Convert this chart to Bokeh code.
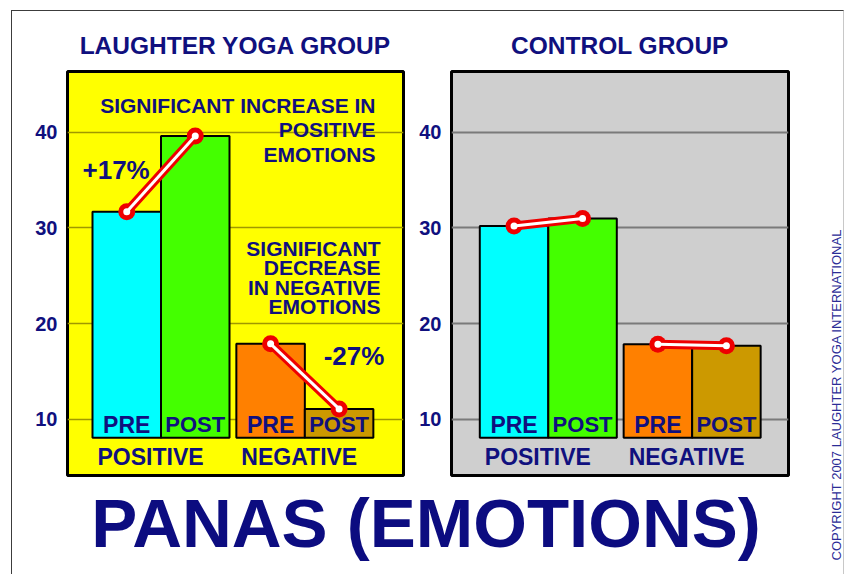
import math
from bokeh.plotting import figure
from bokeh.models import Label, Range1d, FixedTicker, ColumnDataSource
from bokeh.layouts import row, column
from bokeh.embed import file_html
from bokeh.resources import INLINE
from bokeh.core.properties import value

# ---------------- data ----------------
groups = ["LAUGHTER YOGA GROUP", "CONTROL GROUP"]
categories = ["POSITIVE", "NEGATIVE"]
phases = ["PRE", "POST"]
laughter_positive = [31.7, 39.6]
laughter_negative = [17.9, 11.1]
control_positive = [30.2, 31.0]
control_negative = [17.85, 17.7]
y_ticks = [10, 20, 30, 40]
laughter_changes = ["+17%", "-27%"]
laughter_notes_pos = ["SIGNIFICANT INCREASE IN", "POSITIVE", "EMOTIONS"]
laughter_notes_neg = ["SIGNIFICANT", "DECREASE", "IN NEGATIVE", "EMOTIONS"]
main_title = "PANAS (EMOTIONS)"
copyright_text = "COPYRIGHT 2007 LAUGHTER YOGA INTERNATIONAL"

# ---------------- styles / layout ----------------
NAVY = "#10107e"
FONT = "Liberation Sans"
BAR_COLORS = ["#00ffff", "#44ff00", "#ff8000", "#cc9900"]
PHASE_SIZES = ["23px", "22px"]
RED = "#ee0000"
Y_START, Y_END = 4.15, 46.34
PX_PER_Y = 9.577
PX_PER_X = 68.5
BAR_BASE = 8.1
XPOS = [0.0, 1.0, 2.1, 3.1]
ORIGIN_X, ORIGIN_Y = 12, 11          # content start after page frame line
FRAME_TOP_ABS = 71
TOP_BOTTOM_ABS = 485
TOP_H = TOP_BOTTOM_ABS - ORIGIN_Y


def px2y(abs_y):
    return Y_END - (abs_y - FRAME_TOP_ABS) / PX_PER_Y


def make_panel(pos_vals, neg_vals, title, fig_w, border_l, border_r, x_start,
               bg, grid_color, grid_w):
    frame_w = fig_w - border_l - border_r
    p = figure(width=fig_w, height=TOP_H, output_backend="svg", toolbar_location=None,
               x_range=Range1d(x_start, x_start + frame_w / PX_PER_X),
               y_range=Range1d(Y_START, Y_END),
               min_border_left=border_l, min_border_right=border_r,
               min_border_top=FRAME_TOP_ABS - ORIGIN_Y,
               min_border_bottom=TOP_BOTTOM_ABS - 475,
               x_axis_location=None, title=title)
    p.title.align = "center"
    p.title.text_font = FONT
    p.title.text_font_style = "bold"
    p.title.text_font_size = "24.5px"
    p.title.text_color = NAVY
    p.title.standoff = 25
    p.background_fill_color = bg
    p.border_fill_color = "white"
    p.outline_line_color = "black"
    p.outline_line_width = 3
    p.xgrid.visible = False
    p.ygrid.ticker = FixedTicker(ticks=y_ticks)
    p.ygrid.grid_line_color = grid_color
    p.ygrid.grid_line_width = grid_w
    ax = p.yaxis[0]
    ax.ticker = FixedTicker(ticks=y_ticks)
    ax.axis_line_color = None
    ax.major_tick_line_color = None
    ax.minor_tick_line_color = None
    ax.major_label_standoff = 4
    ax.major_label_text_font = FONT
    ax.major_label_text_font_style = "bold"
    ax.major_label_text_font_size = "20px"
    ax.major_label_text_color = NAVY

    vals = list(pos_vals) + list(neg_vals)
    src = ColumnDataSource(dict(x=XPOS, top=vals, color=BAR_COLORS,
                                label=phases + phases, fs=PHASE_SIZES * 2))
    p.vbar(x="x", top="top", bottom=BAR_BASE, width=1.0, fill_color="color",
           line_color="black", line_width=2, source=src)
    p.text(x="x", y=px2y(424.2), text="label", source=src, text_align="center",
           text_baseline="middle", text_font=value(FONT),
           text_font_style="bold", text_font_size="fs", text_color=NAVY)
    gsrc = ColumnDataSource(dict(x=[XPOS[0] - 0.5, XPOS[2] - 0.5], label=categories))
    p.text(x="x", y=px2y(456.2), text="label", source=gsrc, x_offset=5,
           text_align="left", text_baseline="middle", text_font=value(FONT),
           text_font_style="bold", text_font_size=value("23px"), text_color=NAVY)

    for xs, ys in ((XPOS[0:2], pos_vals), (XPOS[2:4], neg_vals)):
        p.line(xs, ys, line_color=RED, line_width=9, line_cap="round")
        p.scatter(xs, ys, size=17, fill_color=RED, line_color=None)
        p.line(xs, ys, line_color="white", line_width=3)
        p.scatter(xs, ys, size=7, fill_color="white", line_color=None)
    return p


# Left panel: canvas abs x 12..410, frame 67..403
L_START = -0.5 - 25 / PX_PER_X
figL = make_panel(laughter_positive, laughter_negative, groups[0], 398, 55, 7,
                  L_START, "#ffff00", "#a09800", 1.5)
# Right panel: canvas abs x 410..815, frame 451..788
R_START = -0.5 - 28.3 / PX_PER_X
figR = make_panel(control_positive, control_negative, groups[1], 405, 41, 27,
                  R_START, "#cfcfcf", "#7a7a7a", 2)


def lx(abs_x):
    return L_START + (abs_x - 67) / PX_PER_X


def add_lab(p, x, y, text, size, align):
    p.add_layout(Label(x=x, y=y, text=text, text_align=align,
                       text_baseline="middle", text_font=FONT,
                       text_font_style="bold", text_font_size=size,
                       text_color=NAVY))


for txt, cy in zip(laughter_notes_pos, [105.0, 129.5, 154.2]):
    add_lab(figL, lx(375), px2y(cy), txt, "21px", "right")
for txt, cy in zip(laughter_notes_neg, [248.2, 267.5, 286.8, 306.5]):
    add_lab(figL, lx(380), px2y(cy), txt, "21px", "right")
add_lab(figL, lx(82), px2y(169.2), laughter_changes[0], "26px", "left")
add_lab(figL, lx(353.5), px2y(355.8), laughter_changes[1], "26px", "center")

# Bottom title strip: abs x 12..815, y 485..574
BOT_W, BOT_H = 815 - ORIGIN_X, 574 - TOP_BOTTOM_ABS
figB = figure(width=BOT_W, height=BOT_H, output_backend="svg", toolbar_location=None,
              x_range=Range1d(0, BOT_W), y_range=Range1d(0, BOT_H), min_border=0,
              x_axis_location=None, y_axis_location=None)
figB.grid.visible = False
figB.outline_line_color = None
figB.add_layout(Label(x=425.5 - ORIGIN_X, y=574 - 523, text=main_title,
                      text_align="center", text_baseline="middle", text_font=FONT,
                      text_font_style="bold", text_font_size="69px",
                      text_color="#0c0c80"))

# Copyright strip: abs x 815..843, y 11..574
C_W, C_H = 28, 574 - ORIGIN_Y
figC = figure(width=C_W, height=C_H, output_backend="svg", toolbar_location=None,
              x_range=Range1d(0, C_W), y_range=Range1d(0, C_H), min_border=0,
              x_axis_location=None, y_axis_location=None)
figC.grid.visible = False
figC.outline_line_color = None
figC.add_layout(Label(x=20.5, y=574 - 560, text=copyright_text, angle=math.pi / 2,
                      text_align="left", text_baseline="middle", text_font=FONT,
                      text_font_size="13px", text_color="#2c2c96"))

page = row(column(row(figL, figR), figB), figC,
           styles={"margin-left": "11px", "margin-top": "10px",
                   "border-left": "1px solid #3c3c3c",
                   "border-top": "1px solid #3c3c3c",
                   "border-right": "1px solid #c8c8c8"})
open("out.html", "w").write(file_html(page, INLINE))
